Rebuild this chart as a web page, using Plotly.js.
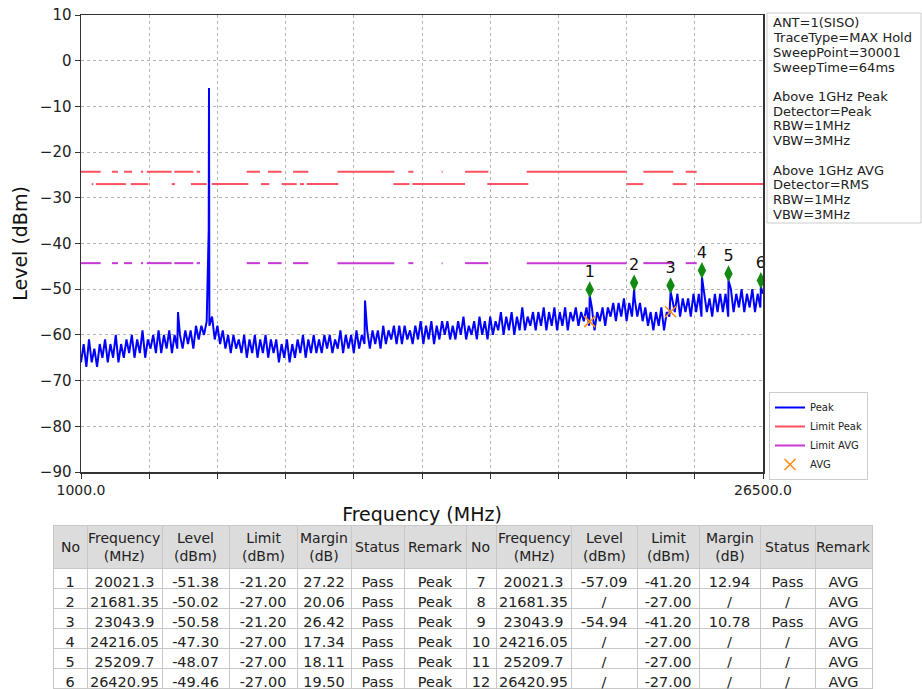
<!DOCTYPE html>
<html><head><meta charset="utf-8">
<script src="https://cdn.plot.ly/plotly-3.0.1.min.js"></script>
<style>html,body{margin:0;padding:0;background:#fff}#chart{width:922px;height:689px}</style>
</head><body><div id="chart"></div>
<script>
// ---------------- data ----------------
const sweepStart = 1000;      // MHz
const sweepStep = 100;        // MHz between read-off samples
// Peak trace (alternating bottom / top of the noise band)
const noiseLevel = [
 -66,-62,-67,-61,-66,-63,-67,-62,-65,-61,
 -66,-62,-65,-60,-66,-62,-65,-61,-64,-60,
 -65,-61,-64,-59,-65,-61,-63,-60,-64,-59,
 -64,-60,-63,-59,-64,-60,-63,-60,-63,-59,
 -62,-59,-63,-58,-61,-58,-60,-57,-58,-56,
 -61,-58,-62,-59,-63,-60,-64,-60,-63,-61,
 -64,-60,-65,-61,-64,-60,-65,-61,-64,-60,
 -65,-61,-64,-61,-66,-62,-65,-61,-66,-62,
 -65,-61,-64,-60,-65,-61,-64,-60,-64,-61,
 -64,-60,-63,-60,-64,-61,-63,-59,-64,-60,
 -63,-60,-64,-59,-63,-60,-62,-59,-63,-59,
 -62,-59,-63,-58,-62,-59,-61,-58,-62,-58,
 -62,-58,-61,-59,-62,-58,-61,-57,-62,-58,
 -61,-57,-62,-58,-61,-57,-60,-57,-61,-58,
 -61,-57,-60,-56,-61,-58,-60,-57,-61,-56,
 -60,-57,-61,-56,-60,-57,-59,-55,-60,-56,
 -59,-55,-60,-56,-59,-54,-59,-56,-58,-55,
 -59,-55,-58,-54,-59,-55,-58,-54,-59,-55,
 -58,-54,-59,-55,-57,-54,-58,-55,-57,-54,
 -58,-54,-59,-55,-57,-54,-58,-54,-56,-53,
 -57,-53,-56,-52,-57,-53,-56,-52,-56,-53,
 -57,-54,-58,-55,-59,-55,-58,-54,-59,-55,
 -56,-52,-55,-51,-56,-52,-55,-52,-56,-51,
 -55,-51,-56,-51,-55,-52,-56,-51,-55,-51,
 -55,-51,-56,-50,-55,-51,-54,-50,-55,-51,
 -54,-50,-55,-51,-54,-51
];
// narrow spikes of the Peak trace
const spikeFreq  = [4627, 5776, 5786, 5796, 11619, 20021.3, 21681.35, 23043.9, 24216.05, 25209.7, 26420.95];
const spikeLevel = [-55, -37, -6, -42, -52.5, -51.38, -50.02, -50.58, -47.30, -48.07, -49.46];

// limit lines (segments, MHz)
const restrictedStart = [1000,2160,2610,3240,3456,4490,5325,7195,7990,8930,10585,13240,14485,15360,17665,22025,23610];
const restrictedStop  = [1736,2380,2910,3320,4390,5200,5450,7690,8500,9500,12715,13425,14520,16230,21400,23145,24020];
const otherStart = [1400,1560,2860,4390,5110,5885,7730,8500,9190,9440,12680,13390,16190,21400,23125,24000];
const otherStop  = [1460,2680,3520,4515,5700,7255,8040,9065,9340,10620,13280,15360,17725,22025,23645,26500];
const limitPeakRestricted = -24.3;
const limitPeakOther = -27.0;
const limitAvgRestricted = -44.3;

// markers
const markerNo = ['1','2','3','4','5','6'];
const markerFreq = [20021.3, 21681.35, 23043.9, 24216.05, 25209.7, 26420.95];
const markerPlotLevel = [-50.1, -48.6, -49.2, -45.9, -46.6, -48.1];
const avgFreq = [20021.3, 23043.9];
const avgLevel = [-57.09, -54.94];

// axes
const xTickVals = [1000,3550,6100,8650,11200,13750,16300,18850,21400,23950,26500];
const xTickText = ['1000.0','','','','','','','','','','26500.0'];
const yTickVals = [10,0,-10,-20,-30,-40,-50,-60,-70,-80,-90];
const yTickText = ['10','0','\u221210','\u221220','\u221230','\u221240','\u221250','\u221260','\u221270','\u221280','\u221290'];

// info box
const infoLines = ['ANT=1(SISO)','TraceType=MAX Hold','SweepPoint=30001','SweepTime=64ms','',
  'Above 1GHz Peak','Detector=Peak','RBW=1MHz','VBW=3MHz','',
  'Above 1GHz AVG','Detector=RMS','RBW=1MHz','VBW=3MHz'];

// table
const tableHeader = ['No','Frequency<br>(MHz)','Level<br>(dBm)','Limit<br>(dBm)','Margin<br>(dB)','Status','Remark',
                     'No','Frequency<br>(MHz)','Level<br>(dBm)','Limit<br>(dBm)','Margin<br>(dB)','Status','Remark'];
const noL = ['1','2','3','4','5','6'];
const freqL = ['20021.3','21681.35','23043.9','24216.05','25209.7','26420.95'];
const levelL = ['-51.38','-50.02','-50.58','-47.30','-48.07','-49.46'];
const limitL = ['-21.20','-27.00','-21.20','-27.00','-27.00','-27.00'];
const marginL = ['27.22','20.06','26.42','17.34','18.11','19.50'];
const statusL = ['Pass','Pass','Pass','Pass','Pass','Pass'];
const remarkL = ['Peak','Peak','Peak','Peak','Peak','Peak'];
const noR = ['7','8','9','10','11','12'];
const freqR = ['20021.3','21681.35','23043.9','24216.05','25209.7','26420.95'];
const levelR = ['-57.09','/','-54.94','/','/','/'];
const limitR = ['-41.20','-27.00','-41.20','-27.00','-27.00','-27.00'];
const marginR = ['12.94','/','10.78','/','/','/'];
const statusR = ['Pass','/','Pass','/','/','/'];
const remarkR = ['AVG','AVG','AVG','AVG','AVG','AVG'];
const colWidth = [34,75,67,68,54,53,62,30,75,66,62,61,55,57];

// ---------------- build ----------------
const W = 922, H = 689;
const px = v => v / W, py = v => (H - v) / H;
const FONT = 'DejaVu Sans, Verdana, sans-serif';

const pts = noiseLevel.map((v, i) => [sweepStart + i * sweepStep, v]);
spikeFreq.forEach((f, i) => pts.push([f, spikeLevel[i]]));
pts.sort((a, b) => a[0] - b[0]);

function segs(starts, stops, level, xs, ys) {
  starts.forEach((s, i) => { xs.push(s, stops[i], null); ys.push(level, level, null); });
}
const redX = [], redY = [];
segs(restrictedStart, restrictedStop, limitPeakRestricted, redX, redY);
segs(otherStart, otherStop, limitPeakOther, redX, redY);
const magX = [], magY = [];
segs(restrictedStart, restrictedStop, limitAvgRestricted, magX, magY);

const traces = [
  {type:'scatter', mode:'lines', name:'Peak', x: pts.map(p => p[0]), y: pts.map(p => p[1]),
   line:{color:'#0000ff', width:2}},
  {type:'scatter', mode:'lines', name:'Limit Peak', x: redX, y: redY, connectgaps:false,
   line:{color:'rgb(255,80,95)', width:2}},
  {type:'scatter', mode:'lines', name:'Limit AVG', x: magX, y: magY, connectgaps:false,
   line:{color:'rgb(200,55,215)', width:2}},
  {type:'scatter', mode:'markers', name:'AVG', x: avgFreq, y: avgLevel,
   marker:{symbol:'x-thin', size:11, line:{color:'#ff8c1a', width:1.6}, color:'#ff8c1a'}},
  {type:'scatter', mode:'markers+text', showlegend:false, x: markerFreq, y: markerPlotLevel,
   text: markerNo, textposition:'top center', cliponaxis:false,
   textfont:{family:FONT, size:16, color:'#111'},
   marker:{symbol:'diamond-tall', size:12, color:'#128a12'}},
  {type:'table', domain:{x:[px(53), px(872)], y:[0, py(525)]},
   columnwidth: colWidth,
   header:{values: tableHeader.map(() => ''), height:43, align:'center',
     fill:{color:'#dcdcdc'}, line:{color:'#c8c8c8', width:1},
     font:{family:FONT, size:14, color:'#222'}},
   cells:{values:[noL,freqL,levelL,limitL,marginL,statusL,remarkL,noR,freqR,levelR,limitR,marginR,statusR,remarkR],
     height:20, align:'center', fill:{color:'#ffffff'}, line:{color:'#c8c8c8', width:1},
     font:{family:FONT, size:14.5, color:'#222'}}}
];

const annotations = [];
infoLines.forEach((t, i) => {
  if (!t) return;
  annotations.push({xref:'paper', yref:'paper', x:px(771), y:py(23 + i * 14.7), xanchor:'left', yanchor:'middle',
    text:t, showarrow:false, font:{family:FONT, size:13, color:'#222'}});
});
// table header texts, vertically centred in the header row
let acc = 53;
colWidth.forEach((w, i) => {
  annotations.push({xref:'paper', yref:'paper', x:px(acc + w / 2), y:py(547), xanchor:'center', yanchor:'middle',
    text:tableHeader[i], showarrow:false, font:{family:FONT, size:14, color:'#222'}});
  acc += w;
});

const layout = {
  width:W, height:H, margin:{l:0, r:0, t:0, b:0}, paper_bgcolor:'#fff', plot_bgcolor:'#fff',
  font:{family:FONT, color:'#222'},
  showlegend:true,
  legend:{x:px(769), y:py(392), xanchor:'left', yanchor:'top', bgcolor:'#fff', bordercolor:'#cccccc', borderwidth:1,
    font:{family:FONT, size:10, color:'#222'}, itemwidth:30, tracegroupgap:0},
  xaxis:{domain:[px(81), px(763)], range:[1000, 26500], tickvals:xTickVals, ticktext:xTickText,
    ticks:'outside', ticklen:5, tickcolor:'#333', tickfont:{family:FONT, size:14, color:'#222'},
    showgrid:true, gridcolor:'#b4b4b4', griddash:'dot', gridwidth:1, zeroline:false,
    showline:true, mirror:true, linecolor:'#333', linewidth:1.5, automargin:false,
    title:{text:'Frequency (MHz)', font:{family:FONT, size:19, color:'#111'}, standoff:10}},
  yaxis:{domain:[py(472), py(15)], range:[-90, 10], tickvals:yTickVals, ticktext:yTickText,
    ticks:'outside', ticklen:5, tickcolor:'#333', tickfont:{family:FONT, size:15, color:'#222'},
    showgrid:true, gridcolor:'#b4b4b4', griddash:'dot', gridwidth:1, zeroline:false,
    showline:true, mirror:true, linecolor:'#333', linewidth:1.5, automargin:false,
    title:{text:'Level (dBm)', font:{family:FONT, size:19, color:'#111'}, standoff:7}},
  shapes:[{type:'rect', xref:'paper', yref:'paper', x0:px(767), x1:px(921), y0:py(223), y1:py(13),
    line:{color:'#cccccc', width:1}, fillcolor:'rgba(255,255,255,0)', layer:'above'}],
  annotations: annotations
};

Plotly.newPlot('chart', traces, layout, {displayModeBar:false, staticPlot:true});
</script>
</body></html>
